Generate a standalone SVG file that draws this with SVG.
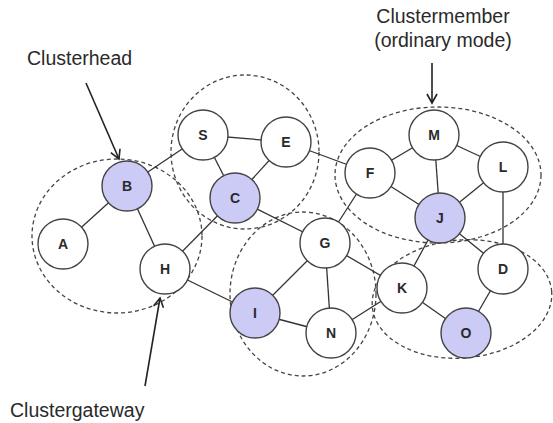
<svg xmlns="http://www.w3.org/2000/svg" width="553" height="423" viewBox="0 0 553 423">
<style>
.cl{fill:none;stroke:#444;stroke-width:1.3;stroke-dasharray:4,3}
.e{stroke:#333;stroke-width:1.3;fill:none}
.n{fill:#fff;stroke:#444;stroke-width:1.4}
.h{fill:#cbcbf6;stroke:#444;stroke-width:1.4}
.t{font-family:"Liberation Sans",Arial,sans-serif;font-weight:bold;font-size:14px;fill:#2a2a2a;text-anchor:middle}
.lab{font-family:"Liberation Sans",Arial,sans-serif;font-size:19.5px;fill:#2a2a2a}
.ar{stroke:#222;stroke-width:1.6;fill:none}
</style>
<defs>
<marker id="v" markerWidth="12" markerHeight="12" refX="10" refY="6" orient="auto" markerUnits="userSpaceOnUse">
<path d="M1,1 L10,6 L1,11" fill="none" stroke="#222" stroke-width="1.6"/>
</marker>
</defs>
<g id="clusters">
<ellipse class="cl" cx="117" cy="236" rx="85" ry="77"/>
<ellipse class="cl" cx="245" cy="152" rx="74" ry="77"/>
<ellipse class="cl" cx="303" cy="294" rx="73" ry="82"/>
<ellipse class="cl" cx="438" cy="175" rx="103" ry="68"/>
<ellipse class="cl" cx="462" cy="299" rx="90" ry="59" transform="rotate(-5 462 299)"/>
</g>
<g id="connectors">
<line class="e" x1="63" y1="244" x2="127" y2="186"/>
<line class="e" x1="127" y1="186" x2="203" y2="135"/>
<line class="e" x1="127" y1="186" x2="165" y2="269"/>
<line class="e" x1="165" y1="269" x2="235" y2="198"/>
<line class="e" x1="165" y1="269" x2="255" y2="313"/>
<line class="e" x1="203" y1="135" x2="286" y2="142"/>
<line class="e" x1="203" y1="135" x2="235" y2="198"/>
<line class="e" x1="235" y1="198" x2="286" y2="142"/>
<line class="e" x1="235" y1="198" x2="325" y2="243"/>
<line class="e" x1="286" y1="142" x2="370" y2="173"/>
<line class="e" x1="370" y1="173" x2="325" y2="243"/>
<line class="e" x1="370" y1="173" x2="434" y2="135"/>
<line class="e" x1="370" y1="173" x2="440" y2="218"/>
<line class="e" x1="434" y1="135" x2="440" y2="218"/>
<line class="e" x1="434" y1="135" x2="503" y2="167"/>
<line class="e" x1="503" y1="167" x2="440" y2="218"/>
<line class="e" x1="503" y1="167" x2="503" y2="269"/>
<line class="e" x1="440" y1="218" x2="503" y2="269"/>
<line class="e" x1="440" y1="218" x2="402" y2="288"/>
<line class="e" x1="325" y1="243" x2="255" y2="313"/>
<line class="e" x1="325" y1="243" x2="331" y2="333"/>
<line class="e" x1="325" y1="243" x2="402" y2="288"/>
<line class="e" x1="255" y1="313" x2="331" y2="333"/>
<line class="e" x1="331" y1="333" x2="402" y2="288"/>
<line class="e" x1="402" y1="288" x2="466" y2="333"/>
<line class="e" x1="466" y1="333" x2="503" y2="269"/>
</g>
<g id="node-A"><circle class="n" cx="63" cy="244" r="25"/><text class="t" x="63" y="249">A</text></g>
<g id="node-B"><circle class="h" cx="127" cy="186" r="25"/><text class="t" x="127" y="191">B</text></g>
<g id="node-H"><circle class="n" cx="165" cy="269" r="25"/><text class="t" x="165" y="274">H</text></g>
<g id="node-S"><circle class="n" cx="203" cy="135" r="25"/><text class="t" x="203" y="140">S</text></g>
<g id="node-C"><circle class="h" cx="235" cy="198" r="25"/><text class="t" x="235" y="203">C</text></g>
<g id="node-E"><circle class="n" cx="286" cy="142" r="25"/><text class="t" x="286" y="147">E</text></g>
<g id="node-F"><circle class="n" cx="370" cy="173" r="25"/><text class="t" x="370" y="178">F</text></g>
<g id="node-G"><circle class="n" cx="325" cy="243" r="25"/><text class="t" x="325" y="248">G</text></g>
<g id="node-I"><circle class="h" cx="255" cy="313" r="25"/><text class="t" x="255" y="318">I</text></g>
<g id="node-N"><circle class="n" cx="331" cy="333" r="25"/><text class="t" x="331" y="338">N</text></g>
<g id="node-K"><circle class="n" cx="402" cy="288" r="25"/><text class="t" x="402" y="293">K</text></g>
<g id="node-M"><circle class="n" cx="434" cy="135" r="25"/><text class="t" x="434" y="140">M</text></g>
<g id="node-L"><circle class="n" cx="503" cy="167" r="25"/><text class="t" x="503" y="172">L</text></g>
<g id="node-J"><circle class="h" cx="440" cy="218" r="25"/><text class="t" x="440" y="223">J</text></g>
<g id="node-D"><circle class="n" cx="503" cy="269" r="25"/><text class="t" x="503" y="274">D</text></g>
<g id="node-O"><circle class="h" cx="466" cy="333" r="25"/><text class="t" x="466" y="338">O</text></g>
<g id="annotations">
<text class="lab" x="27" y="65">Clusterhead</text>
<line class="ar" x1="86" y1="83" x2="119" y2="159" marker-end="url(#v)"/>
<text class="lab" x="443" y="23" text-anchor="middle">Clustermember</text>
<text class="lab" x="443" y="47" text-anchor="middle">(ordinary mode)</text>
<line class="ar" x1="432" y1="63" x2="432" y2="103" marker-end="url(#v)"/>
<text class="lab" x="10" y="417">Clustergateway</text>
<line class="ar" x1="145" y1="386" x2="160" y2="298" marker-end="url(#v)"/>
</g>
</svg>
